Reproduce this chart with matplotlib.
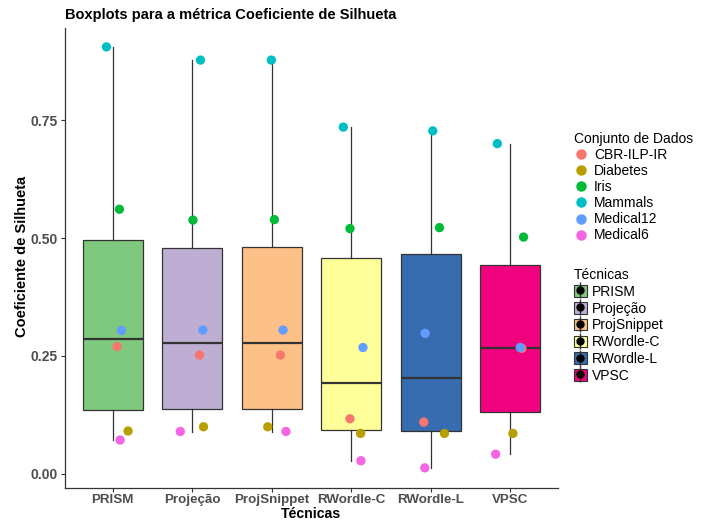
import matplotlib
matplotlib.use("Agg")
import matplotlib.pyplot as plt
from matplotlib.lines import Line2D
from matplotlib.patches import Patch
from matplotlib.legend_handler import HandlerTuple
import numpy as np

plt.rcParams["font.family"] = ["Liberation Sans", "DejaVu Sans"]

tecnicas = ["PRISM", "Projeção", "ProjSnippet", "RWordle-C", "RWordle-L", "VPSC"]
conjuntos = ["CBR-ILP-IR", "Diabetes", "Iris", "Mammals", "Medical12", "Medical6"]

# values[tecnica] = [CBR-ILP-IR, Diabetes, Iris, Mammals, Medical12, Medical6]
prism = [0.270, 0.091, 0.561, 0.905, 0.304, 0.072]
projecao = [0.252, 0.100, 0.538, 0.877, 0.305, 0.090]
projsnippet = [0.252, 0.100, 0.539, 0.877, 0.305, 0.090]
rwordle_c = [0.117, 0.086, 0.520, 0.735, 0.268, 0.028]
rwordle_l = [0.110, 0.086, 0.522, 0.727, 0.298, 0.013]
vpsc = [0.266, 0.086, 0.502, 0.700, 0.268, 0.042]
valores = [prism, projecao, projsnippet, rwordle_c, rwordle_l, vpsc]

# horizontal jitter (category units)
jitter = [
    [0.055, 0.193, 0.084, -0.079, 0.109, 0.093],
    [0.092, 0.142, 0.009, 0.104, 0.134, -0.150],
    [0.108, -0.050, 0.033, -0.005, 0.142, 0.179],
    [-0.016, 0.118, -0.016, -0.100, 0.147, 0.122],
    [-0.088, 0.172, 0.109, 0.025, -0.071, -0.075],
    [0.146, 0.033, 0.167, -0.163, 0.125, -0.184],
]

cores_conj = ["#F8766D", "#B79F00", "#00BA38", "#00BFC4", "#619CFF", "#F564E3"]
cores_tec = ["#7FC97F", "#BEAED4", "#FDC086", "#FFFF99", "#386CB0", "#F0027F"]

W, H = 703, 521
fig = plt.figure(figsize=(W / 100, H / 100), dpi=100)
ax = fig.add_axes([65 / W, 1 - 488 / H, (558 - 65) / W, (488 - 28) / H])

pos = np.arange(1, len(tecnicas) + 1)
edge = "#333333"
bp = ax.boxplot(valores, positions=pos, widths=0.75, patch_artist=True,
                whis=1.5, showfliers=False, showcaps=False,
                medianprops=dict(color=edge, linewidth=1.6),
                boxprops=dict(edgecolor=edge, linewidth=0.9),
                whiskerprops=dict(color=edge, linewidth=0.9),
                zorder=1)
for patch, c in zip(bp["boxes"], cores_tec):
    patch.set_facecolor(c)

for i, vals in enumerate(valores):
    for j, v in enumerate(vals):
        ax.scatter(pos[i] + jitter[i][j], v, s=45, color=cores_conj[j],
                   edgecolors="none", zorder=3)

ax.set_xlim(0.4, 6.6)
ax.set_ylim(-0.0297, 0.945)
ax.set_xticks(pos)
ax.set_xticklabels(tecnicas)
ax.set_yticks([0, 0.25, 0.5, 0.75])
ax.set_yticklabels(["0.00", "0.25", "0.50", "0.75"])
for lab in ax.get_yticklabels():
    lab.set_fontweight("bold")
    lab.set_color("#4D4D4D")
    lab.set_fontsize(10)
for lab in ax.get_xticklabels():
    lab.set_fontweight("bold")
    lab.set_color("#4D4D4D")
    lab.set_fontsize(9.6)
ax.tick_params(axis="both", length=3, width=0.8, color="#333333", pad=2)
ax.tick_params(axis="x", pad=1.5)
for s in ["top", "right"]:
    ax.spines[s].set_visible(False)
for s in ["left", "bottom"]:
    ax.spines[s].set_color("#333333")
    ax.spines[s].set_linewidth(0.9)

fig.text(311 / W, 1 - 513.5 / H, "Técnicas", fontweight="bold", fontsize=10.2,
         ha="center", va="center")
fig.text(22 / W, 1 - 256 / H, "Coeficiente de Silhueta", fontweight="bold",
         fontsize=10.5, ha="center", va="center", rotation=90)
fig.text(65 / W, 1 - 15 / H, "Boxplots para a métrica Coeficiente de Silhueta",
         fontweight="bold", fontsize=10.5, ha="left", va="center")

h1 = [Line2D([], [], marker="o", linestyle="", color=c, markersize=6.5)
      for c in cores_conj]
leg1 = fig.legend(h1, conjuntos, title="Conjunto de Dados", loc="upper left",
                  bbox_to_anchor=(574 / W, 1 - 132 / H), frameon=False,
                  fontsize=10, title_fontsize=10, handlelength=1.0,
                  handletextpad=0.45, labelspacing=0.15, alignment="left",
                  borderaxespad=0, borderpad=0)

h2 = []
for c in cores_tec:
    h2.append((Patch(facecolor=c, edgecolor=edge, linewidth=0.8),
               Line2D([], [], marker="|", linestyle="", color=edge, markersize=11),
               Line2D([], [], marker="o", linestyle="", color="black", markersize=5)))
leg2 = fig.legend(h2, tecnicas, title="Técnicas", loc="upper left",
                  bbox_to_anchor=(574 / W, 1 - 268 / H), frameon=False,
                  fontsize=10, title_fontsize=10, handlelength=0.9,
                  handleheight=0.9, handletextpad=0.4, labelspacing=0.2,
                  alignment="left", borderaxespad=0, borderpad=0,
                  handler_map={tuple: HandlerTuple(ndivide=1)})

fig.savefig("out.png", dpi=100)
